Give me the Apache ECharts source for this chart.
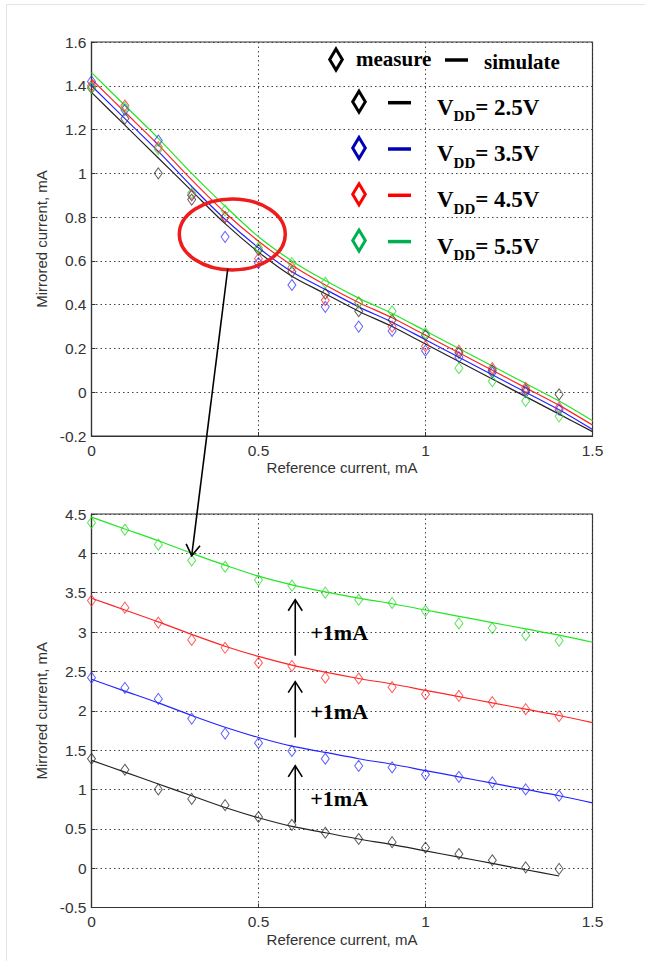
<!DOCTYPE html>
<html>
<head>
<meta charset="utf-8">
<script src="https://cdn.jsdelivr.net/npm/echarts@6/dist/echarts.min.js"></script>
<style>
html, body { margin: 0; padding: 0; background: #fff; }
#chart { width: 645px; height: 961px; }
</style>
</head>
<body>
<div id="chart"></div>
<script>
// reference current (mA) for measured points and simulated curves
const refMeasured = [0, 0.1, 0.2, 0.3, 0.4, 0.5, 0.6, 0.7, 0.8, 0.9, 1.0, 1.1, 1.2, 1.3, 1.4]
const refSimulated = [0, 0.1, 0.2, 0.3, 0.4, 0.5, 0.6, 0.7, 0.8, 0.9, 1.0, 1.1, 1.2, 1.3, 1.4, 1.5]

// measured mirrored current (mA)
const meas25 = [1.39, 1.25, 1.00, 0.88, 0.80, 0.65, 0.55, 0.45, 0.37, 0.33, 0.26, 0.18, 0.10, 0.01, -0.01]
const meas35 = [1.42, 1.29, 1.15, 0.90, 0.71, 0.59, 0.49, 0.39, 0.30, 0.28, 0.19, 0.16, 0.09, 0.00, -0.08]
const meas45 = [1.40, 1.31, 1.12, 0.90, 0.80, 0.61, 0.57, 0.42, 0.41, 0.30, 0.21, 0.19, 0.11, 0.02, -0.07]
const meas55 = [1.39, 1.30, 1.11, 0.91, 0.83, 0.66, 0.59, 0.50, 0.41, 0.37, 0.27, 0.11, 0.05, -0.04, -0.11]

// simulated mirrored current (mA)
const sim25 = [1.37, 1.22, 1.07, 0.92, 0.77, 0.64, 0.53, 0.45, 0.37, 0.30, 0.22, 0.14, 0.06, -0.02, -0.10, -0.18]
const sim35 = [1.40, 1.25, 1.10, 0.94, 0.79, 0.66, 0.55, 0.47, 0.39, 0.32, 0.24, 0.16, 0.08, 0.00, -0.08, -0.17]
const sim45 = [1.43, 1.28, 1.13, 0.97, 0.82, 0.69, 0.58, 0.49, 0.41, 0.34, 0.26, 0.18, 0.10, 0.02, -0.06, -0.15]
const sim55 = [1.46, 1.31, 1.16, 1.00, 0.85, 0.71, 0.60, 0.51, 0.43, 0.36, 0.28, 0.20, 0.12, 0.04, -0.04, -0.13]

const vddLabels = ["2.5V", "3.5V", "4.5V", "5.5V"]
// lower plot: each supply is shifted up by another +1 mA
const shiftMA = [0, 1, 2, 3]

const measured = [meas25, meas35, meas45, meas55]
const simulated = [sim25, sim35, sim45, sim55]
const markColors = ["#333333", "#3535ff", "#ff3030", "#2edc2e"]
const lineColors = ["#222222", "#2424ff", "#ff2424", "#22e622"]
const legendColors = ["#000000", "#0000b4", "#ff0000", "#00b050"]

const sans = "Liberation Sans"
const serif = "Liberation Serif"

const chart = echarts.init(document.getElementById("chart"), null, { renderer: "svg" })

const xAxisBase = (gridIndex) => ({
  gridIndex,
  type: "value",
  min: 0,
  max: 1.5,
  interval: 0.5,
  name: "Reference current, mA",
  nameLocation: "middle",
  nameGap: 24,
  nameTextStyle: { fontFamily: sans, fontSize: 15, color: "#333" },
  axisLine: { onZero: false, lineStyle: { color: "#333", width: 1.2 } },
  axisTick: { inside: true, length: 4, lineStyle: { color: "#333" } },
  axisLabel: { fontFamily: sans, fontSize: 15.5, color: "#333", margin: 6 },
  splitLine: { show: true, lineStyle: { color: "#444", width: 1, type: [1.5, 3] } }
})

const yAxisBase = (gridIndex, min, max, interval) => ({
  gridIndex,
  type: "value",
  min,
  max,
  interval,
  name: "Mirrored current, mA",
  nameLocation: "middle",
  nameGap: 41,
  nameTextStyle: { fontFamily: sans, fontSize: 15, color: "#333" },
  axisLine: { onZero: false, lineStyle: { color: "#333", width: 1.2 } },
  axisTick: { inside: true, length: 4, lineStyle: { color: "#333" } },
  axisLabel: { fontFamily: sans, fontSize: 15.5, color: "#333", margin: 5 },
  splitLine: { show: true, lineStyle: { color: "#444", width: 1, type: [1.5, 3] } }
})

const series = []
for (let g = 0; g < 2; g++) {
  for (let i = 0; i < 4; i++) {
    const shift = g === 1 ? shiftMA[i] : 0
    let simX = refSimulated
    // in the lower plot the 2.5V curve stops at the last measured point
    if (g === 1 && i === 0) simX = refSimulated.slice(0, refMeasured.length)
    series.push({
      type: "line",
      xAxisIndex: g,
      yAxisIndex: g,
      showSymbol: false,
      smooth: 0.3,
      z: 2,
      lineStyle: { color: lineColors[i], width: 1.2 },
      data: simX.map((x, k) => [x, simulated[i][k] + shift])
    })
  }
  for (let i = 0; i < 4; i++) {
    const shift = g === 1 ? shiftMA[i] : 0
    series.push({
      type: "scatter",
      xAxisIndex: g,
      yAxisIndex: g,
      symbol: "diamond",
      symbolSize: [8, 11],
      z: 3,
      itemStyle: { color: "rgba(0,0,0,0)", borderColor: markColors[i], borderWidth: 1 },
      data: refMeasured.map((x, k) => [x, measured[i][k] + shift])
    })
  }
}

chart.setOption({
  animation: false,
  backgroundColor: "#fff",
  grid: [
    { left: 91.5, right: 52.5, top: 42, height: 394, show: true, borderColor: "#333", borderWidth: 1.2, backgroundColor: "transparent" },
    { left: 91.5, right: 52.5, top: 514, height: 393.5, show: true, borderColor: "#333", borderWidth: 1.2, backgroundColor: "transparent" }
  ],
  xAxis: [xAxisBase(0), xAxisBase(1)],
  yAxis: [yAxisBase(0, -0.2, 1.6, 0.2), yAxisBase(1, -0.5, 4.5, 0.5)],
  series
})

// ----- annotations -----
const px = (g, x, y) => chart.convertToPixel({ gridIndex: g }, [x, y])

const openHead = (tip, from, len, half) => {
  const dx = tip[0] - from[0]
  const dy = tip[1] - from[1]
  const d = Math.sqrt(dx * dx + dy * dy)
  const ux = dx / d
  const uy = dy / d
  const bx = tip[0] - ux * len
  const by = tip[1] - uy * len
  return {
    type: "polyline",
    z: 100,
    shape: { points: [[bx - uy * half, by + ux * half], tip, [bx + uy * half, by - ux * half]] },
    style: { stroke: "#000", lineWidth: 1.6, fill: null }
  }
}

const arrow = (from, tip) => [
  { type: "line", z: 100, shape: { x1: from[0], y1: from[1], x2: tip[0], y2: tip[1] }, style: { stroke: "#000", lineWidth: 1.6 } },
  openHead(tip, from, 11, 7)
]

const graphics = []

// light page frame
graphics.push({
  type: "polyline",
  shape: { points: [[6.5, 961], [6.5, 4.5], [645, 4.5]] },
  style: { stroke: "#e4e4e4", lineWidth: 1, fill: null }
})

// red ellipse and link arrow
const ellC = px(0, 0.4215, 0.721)
graphics.push({
  type: "ellipse",
  z: 100,
  shape: { cx: ellC[0], cy: ellC[1], rx: 53, ry: 35.5 },
  style: { stroke: "#ee1c1c", lineWidth: 3.5, fill: null }
})
graphics.push(...arrow(px(0, 0.408, 0.564), px(1, 0.3, 3.97)))

// +1mA arrows
const stepFrom = [0.58, 1.66, 2.70]
const stepTo = [1.30, 2.37, 3.41]
const stepLabelY = [0.88, 1.985, 2.99]
for (let k = 0; k < 3; k++) {
  graphics.push(...arrow(px(1, 0.61, stepFrom[k]), px(1, 0.61, stepTo[k])))
  const lp = px(1, 0.655, stepLabelY[k])
  graphics.push({
    type: "text",
    z: 100,
    x: lp[0],
    y: lp[1],
    style: { text: "+1mA", fontFamily: serif, fontWeight: "bold", fontSize: 22, fill: "#000", verticalAlign: "middle" }
  })
}

// legend
const diamond = (cx, cy, color) => ({
  type: "polygon",
  z: 100,
  shape: { points: [[cx, cy - 10.5], [cx + 6.3, cy], [cx, cy + 10.5], [cx - 6.3, cy]] },
  style: { stroke: color, lineWidth: 3, fill: null }
})
const dash = (x1, x2, y, color) => ({
  type: "line",
  z: 100,
  shape: { x1, y1: y, x2, y2: y },
  style: { stroke: color, lineWidth: 3.5 }
})

graphics.push(diamond(336, 59.5, "#000"))
graphics.push({
  type: "text", z: 100, x: 356, y: 59,
  style: { text: "measure", fontFamily: serif, fontWeight: "bold", fontSize: 21, fill: "#000", verticalAlign: "middle" }
})
graphics.push(dash(445, 468, 60, "#000"))
graphics.push({
  type: "text", z: 100, x: 484, y: 61.5,
  style: { text: "simulate", fontFamily: serif, fontWeight: "bold", fontSize: 21, fill: "#000", verticalAlign: "middle" }
})

for (let i = 0; i < 4; i++) {
  const cy = 101.7 + i * 46.3
  graphics.push(diamond(359, cy, legendColors[i]))
  graphics.push(dash(388, 411, cy + 1, legendColors[i]))
  graphics.push({
    type: "text",
    z: 100,
    x: 437,
    y: cy - 6,
    style: {
      text: "{v|V}{s|DD}{v|= " + vddLabels[i] + "}",
      fill: "#000",
      rich: {
        v: { fontFamily: serif, fontWeight: "bold", fontSize: 23, lineHeight: 28, verticalAlign: "top", fill: "#000" },
        s: { fontFamily: serif, fontWeight: "bold", fontSize: 15, lineHeight: 16, verticalAlign: "bottom", fill: "#000" }
      }
    }
  })
}

chart.setOption({ graphic: graphics })
</script>
</body>
</html>
